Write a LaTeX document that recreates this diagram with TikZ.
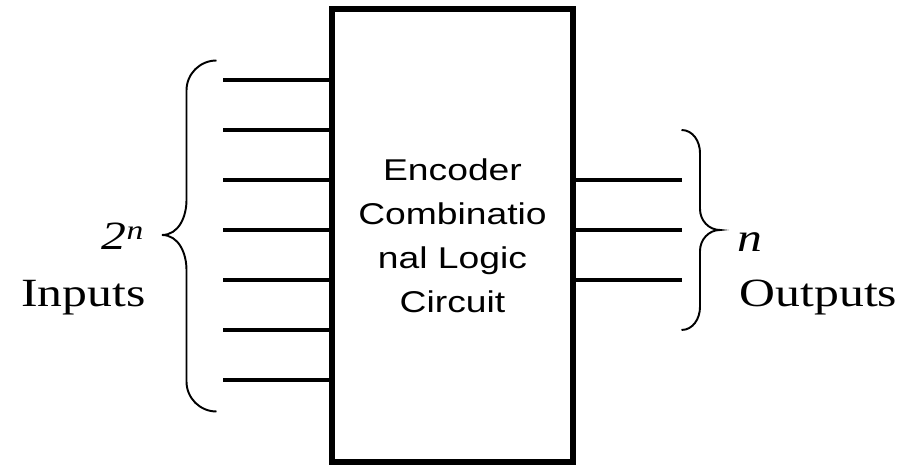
\documentclass[tikz,border=0pt]{standalone}
\usepackage{fontspec}
\setmainfont{Liberation Serif}[FakeStretch=1.24]
\newfontfamily\encfont{Liberation Sans}[FakeStretch=1.24]
\usetikzlibrary{positioning}

\begin{document}
\begin{tikzpicture}[
    font=\fontsize{22.8pt}{27pt}\selectfont,
    encbox/.style={rectangle, draw, line width=3.2pt, minimum width=4.82cm, minimum height=9.06cm, inner sep=0pt, align=center, font=\encfont\fontsize{17.1pt}{25pt}\selectfont},
    wire/.style={line width=2.7pt},
    curly/.style={line width=1.1pt},
    lbl/.style={anchor=base, inner sep=0pt}
]
    \useasboundingbox (0,0) rectangle (18.12,9.3);
    % encoder block
    \node[encbox] (enc) at (9.05,4.59) {Encoder\\Combinatio\\nal Logic\\Circuit};
    % input wires
    \foreach \i/\y in {1/7.7, 2/6.7, 3/5.7, 4/4.7, 5/3.7, 6/2.7, 7/1.7}{
        \coordinate (in\i) at (4.46,\y);
        \draw[wire] (in\i) -- (in\i -| enc.west);
    }
    % output wires
    \foreach \i/\y in {1/5.7, 2/4.7, 3/3.7}{
        \coordinate (out\i) at (13.63,\y);
        \draw[wire] (out\i -| enc.east) -- (out\i);
    }
    % braces
    \coordinate (ltop) at (4.33,8.09);
    \coordinate (lbot) at (4.33,1.07);
    \coordinate (ltip) at (3.24,4.6);
    \draw[curly] (ltop) to[out=180, in=90] (3.73,7.49) -- (3.73,5.3)
        to[out=-90, in=0] (ltip) to[out=0, in=90] (3.73,3.9)
        -- (3.73,1.67) to[out=-90, in=180] (lbot);
    \coordinate (rtop) at (13.63,6.7);
    \coordinate (rbot) at (13.63,2.7);
    \coordinate (rtip) at (14.4,4.7);
    \draw[curly] (rtop) to[out=0, in=90] (14.0,6.24) -- (14.0,5.12)
        to[out=-90, in=180] (rtip) to[out=180, in=90] (14.0,4.28)
        -- (14.0,3.16) to[out=-90, in=0] (rbot);
    % labels
    \node[lbl] (incount) at (2.45,4.3) {\textit{2}\raisebox{5.7pt}{\fontsize{15.4pt}{15.4pt}\selectfont\textit{n}}};
    \node[lbl] (inlbl) at (1.67,3.17) {Inputs};
    \node[lbl] (outcount) at (15.0,4.26) {\textit{n}};
    \node[lbl] (outlbl) at (16.37,3.17) {Outputs};
\end{tikzpicture}
\end{document}
